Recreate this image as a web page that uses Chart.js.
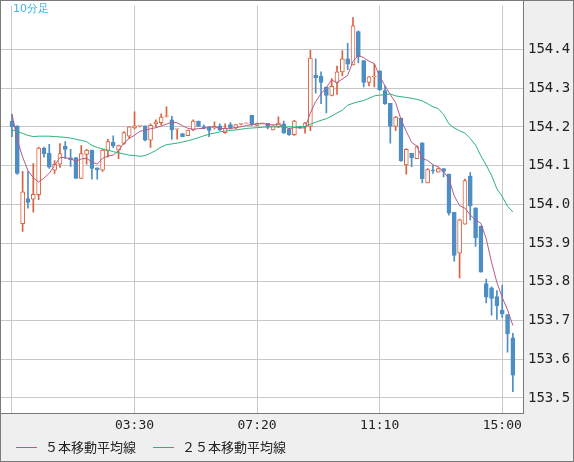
<!DOCTYPE html>
<html lang="ja">
<head>
<meta charset="UTF-8">
<title>10分足</title>
<script src="https://cdn.jsdelivr.net/npm/chart.js"></script>
<style>
  html, body { margin: 0; padding: 0; background: #efefef; }
  #wrap { width: 574px; height: 462px; }
</style>
</head>
<body>
<div id="wrap"><canvas id="chart"></canvas></div>
<script>
// 10-minute candles, one per bar
const opens = [154.215,154.203,153.95,154.015,154.013,154.025,154.145,154.132,154.088,154.104,
  154.15,154.12,154.121,154.067,154.129,154.14,154.094,154.088,154.138,154.16,
  154.14,154.157,154.176,154.197,154.203,154.203,154.166,154.208,154.211,154.227,
  154.218,154.194,154.183,154.177,154.192,154.215,154.2,154.2,154.197,154.203,
  154.185,154.206,154.197,154.207,154.209,154.23,154.204,154.209,154.209,154.192,
  154.2,154.208,154.194,154.18,154.2,154.199,154.201,154.334,154.331,154.303,
  154.281,154.315,154.342,154.376,154.36,154.446,154.371,154.315,154.33,154.345,
  154.294,154.261,154.201,154.223,154.102,154.132,154.118,154.159,154.055,154.088,
  154.083,154.092,154.078,153.979,153.874,153.949,154.073,153.991,153.944,153.795,
  153.784,153.762,153.727,153.715,153.655];
const highs = [154.232,154.203,154.085,154.085,154.105,154.148,154.148,154.155,154.113,154.157,
  154.162,154.142,154.121,154.152,154.142,154.14,154.094,154.142,154.168,154.177,
  154.153,154.188,154.2,154.239,154.204,154.203,154.208,154.218,154.234,154.252,
  154.227,154.195,154.183,154.192,154.218,154.215,154.205,154.2,154.213,154.208,
  154.208,154.211,154.206,154.209,154.21,154.23,154.21,154.21,154.209,154.203,
  154.226,154.215,154.196,154.217,154.202,154.212,154.398,154.376,154.342,154.303,
  154.325,154.357,154.397,154.416,154.482,154.448,154.371,154.33,154.362,154.345,
  154.306,154.261,154.227,154.223,154.144,154.132,154.151,154.159,154.092,154.101,
  154.094,154.092,154.078,153.979,153.962,154.065,154.082,153.991,153.944,153.807,
  153.787,153.777,153.791,153.715,153.667];
const lows = [154.175,154.077,153.93,153.99,153.98,154.012,154.122,154.093,154.08,154.095,
  154.118,154.098,154.067,154.067,154.104,154.065,154.065,154.085,154.122,154.146,
  154.118,154.155,154.17,154.194,154.2,154.164,154.147,154.2,154.205,154.225,
  154.168,154.168,154.175,154.177,154.19,154.201,154.195,154.175,154.194,154.19,
  154.183,154.195,154.195,154.205,154.208,154.204,154.203,154.208,154.195,154.192,
  154.198,154.184,154.178,154.178,154.196,154.184,154.19,154.287,154.26,154.236,
  154.28,154.284,154.332,154.348,154.36,154.365,154.303,154.306,154.303,154.294,
  154.258,154.158,154.19,154.111,154.078,154.097,154.118,154.055,154.055,154.08,
  154.083,154.071,153.972,153.853,153.81,153.949,153.96,153.891,153.825,153.745,
  153.714,153.703,153.708,153.618,153.516];
const closes = [154.2,154.08,154.032,154.005,154.026,154.145,154.131,154.096,154.103,154.131,
  154.142,154.115,154.067,154.131,154.14,154.093,154.089,154.14,154.162,154.151,
  154.152,154.185,154.2,154.203,154.203,154.166,154.204,154.213,154.225,154.228,
  154.192,154.195,154.175,154.192,154.215,154.201,154.197,154.191,154.2,154.192,
  154.197,154.197,154.206,154.209,154.209,154.206,154.209,154.209,154.199,154.203,
  154.21,154.184,154.18,154.215,154.198,154.21,154.378,154.327,154.315,154.281,
  154.305,154.342,154.376,154.362,154.461,154.381,154.315,154.329,154.331,154.296,
  154.26,154.201,154.225,154.113,154.142,154.12,154.149,154.066,154.09,154.087,
  154.092,154.085,153.977,153.868,153.96,154.061,153.996,153.913,153.825,153.76,
  153.757,153.738,153.717,153.665,153.559];

// first MA5 points (they depend on bars before the window)
const ma5Head = [154.234, 154.166, 154.122, 154.087];
// 25-bar moving average as drawn
const ma25 = [154.192,154.188,154.183,154.178,154.175,154.176,154.176,154.176,154.175,154.174,
  154.173,154.171,154.168,154.165,154.162,154.152,154.147,154.143,154.14,154.136,
  154.133,154.13,154.127,154.126,154.124,154.126,154.132,154.139,154.148,154.154,
  154.156,154.158,154.161,154.164,154.168,154.172,154.177,154.181,154.184,154.187,
  154.189,154.191,154.192,154.194,154.196,154.197,154.198,154.199,154.2,154.2,
  154.2,154.2,154.2,154.2,154.2,154.201,154.207,154.212,154.217,154.221,
  154.228,154.236,154.243,154.256,154.261,154.265,154.268,154.274,154.28,154.282,
  154.283,154.285,154.28,154.278,154.276,154.274,154.271,154.267,154.26,154.252,
  154.247,154.232,154.208,154.197,154.19,154.184,154.17,154.153,154.125,154.101,
  154.075,154.04,154.02,153.995,153.98];

const tickLabels = { 23: '03:30', 46: '07:20', 69: '11:10', 92: '15:00' };
const tickIdx = [0, 23, 46, 69, 92];
const priceTicks = [153.5, 153.6, 153.7, 153.8, 153.9, 154.0, 154.1, 154.2, 154.3, 154.4];
const Y_MIN = 153.461, Y_MAX = 154.513;

const RED = '#d9623f', BLUE = '#4d8ec4';
const MA5_COLOR = '#b85a85', MA25_COLOR = '#2bb37b';

const ma5 = closes.map((c, i) => {
  if (i < 4) return ma5Head[i];
  let s = 0;
  for (let k = i - 4; k <= i; k++) s += closes[k];
  return s / 5;
});

const up = closes.map((c, i) => c >= opens[i]);
const wicks = closes.map((c, i) => ({ x: i, y: [lows[i], highs[i]] }));
const bodies = closes.map((c, i) => {
  let lo = Math.min(opens[i], c), hi = Math.max(opens[i], c);
  if (hi - lo < 0.0015) hi = lo + 0.0015;
  return { x: i, y: [lo, hi] };
});

const frame = {
  id: 'frame',
  beforeDraw(chart) {
    const { ctx, chartArea: a, width, height } = chart;
    ctx.save();
    ctx.fillStyle = '#efefef';
    ctx.fillRect(0, 0, width, height);
    ctx.fillStyle = '#ffffff';
    ctx.fillRect(a.left, 1, a.right - a.left, a.bottom - 1);
    ctx.restore();
  },
  afterDraw(chart) {
    const { ctx, chartArea: a, width, height } = chart;
    ctx.save();
    ctx.strokeStyle = '#7a7a7a';
    ctx.lineWidth = 1;
    ctx.strokeRect(a.left - 0.5, 0.5, a.right - a.left + 1, a.bottom);
    ctx.strokeRect(0.5, 0.5, width - 1, height - 1);
    ctx.fillStyle = '#3cb4e6';
    ctx.font = '11px "DejaVu Sans", sans-serif';
    ctx.textBaseline = 'top';
    ctx.fillText('10分足', 13, 4);
    // legend
    const items = [[16, MA5_COLOR, chart.data.datasets[2].label],
                   [153, MA25_COLOR, chart.data.datasets[3].label]];
    ctx.font = '13px "Noto Sans CJK JP", sans-serif';
    ctx.textBaseline = 'middle';
    items.forEach(([x, col, text]) => {
      ctx.strokeStyle = col;
      ctx.beginPath();
      ctx.moveTo(x, 447.5);
      ctx.lineTo(x + 21, 447.5);
      ctx.stroke();
      ctx.fillStyle = '#222';
      ctx.fillText(text, x + 29, 447);
    });
    ctx.restore();
  }
};

new Chart(document.getElementById('chart'), {
  data: {
    datasets: [
      { type: 'bar', label: 'wick', data: wicks, grouped: false, barThickness: 1,
        backgroundColor: up.map(u => u ? RED : BLUE), order: 3 },
      { type: 'bar', label: 'body', data: bodies, grouped: false, barThickness: 4,
        backgroundColor: up.map(u => u ? '#ffffff' : BLUE),
        borderColor: up.map(u => u ? RED : BLUE), borderWidth: 1, borderSkipped: false, order: 2 },
      { type: 'line', label: '５本移動平均線', data: ma5.map((v, i) => ({ x: i, y: v })),
        borderColor: MA5_COLOR, borderWidth: 1, pointRadius: 0, tension: 0, order: 1 },
      { type: 'line', label: '２５本移動平均線', data: ma25.map((v, i) => ({ x: i, y: v })),
        borderColor: MA25_COLOR, borderWidth: 1, pointRadius: 0, tension: 0, order: 0 }
    ]
  },
  options: {
    responsive: true,
    maintainAspectRatio: false,
    animation: false,
    layout: { padding: { top: 1, left: 1, right: 0, bottom: 0 } },
    plugins: {
      tooltip: { enabled: false },
      legend: { display: false }
    },
    scales: {
      x: {
        type: 'linear', min: -2.06, max: 95.9, offset: false, bounds: 'data',
        afterBuildTicks: s => { s.ticks = tickIdx.map(v => ({ value: v })); },
        afterFit: s => { s.height = 49; },
        ticks: { autoSkip: false, maxRotation: 0, color: '#222', padding: 5,
          font: { size: 13, family: '"DejaVu Sans Mono", monospace' },
          callback: v => tickLabels[v] || '' },
        grid: { color: '#c8c8c8', drawTicks: false, offset: false },
        border: { display: false }
      },
      y: {
        position: 'right', min: Y_MIN, max: Y_MAX,
        afterBuildTicks: s => {
          s.ticks = priceTicks.map(v => ({ value: v }));
        },
        afterFit: s => { s.width = 51; },
        ticks: { color: '#222', padding: 5,
          font: { size: 14, family: '"DejaVu Sans Mono", monospace', lineHeight: 0.1 },
          callback: v => v.toFixed(1) },
        grid: { color: '#c8c8c8', drawTicks: false },
        border: { display: false }
      }
    }
  },
  plugins: [frame]
});
</script>
</body>
</html>
